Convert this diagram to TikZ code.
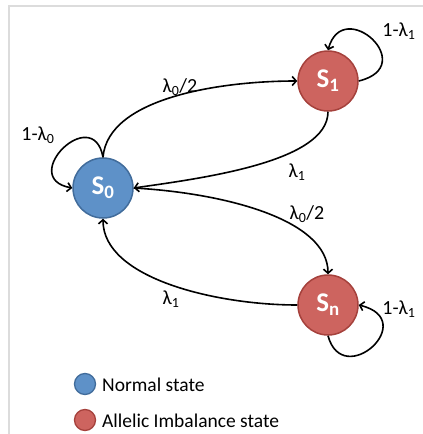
\documentclass[tikz,border=0pt]{standalone}
\usepackage{fontspec}
\setmainfont{Carlito}
\usetikzlibrary{arrows.meta}
\definecolor{nblue}{RGB}{94,145,200}
\definecolor{nblueb}{RGB}{65,108,155}
\definecolor{ared}{RGB}{205,100,95}
\definecolor{aredb}{RGB}{165,65,60}
\definecolor{framegray}{RGB}{220,220,220}
\begin{document}
\begin{tikzpicture}[x=1pt,y=-1pt,
  state/.style={circle,minimum size=60pt,inner sep=0pt,line width=1.5pt,text=white,font=\fontsize{27}{30}\selectfont\bfseries},
  normal/.style={state,fill=nblue,draw=nblueb},
  ai/.style={state,fill=ared,draw=aredb},
  lbl/.style={font=\fontsize{20}{23}\selectfont,inner sep=0pt},
  legtext/.style={font=\fontsize{19.5}{22}\selectfont,inner sep=0pt,anchor=base west},
  tr/.style={line width=1.6pt,-{Straight Barb[length=4pt,width=9pt]}},
  leg/.style={circle,minimum size=21pt,inner sep=0pt,line width=1.3pt}
]
\useasboundingbox (0,0) rectangle (423,434);
\draw[framegray,line width=2pt] (8.5,434) -- (8.5,5.5) -- (423,5.5);

\node[normal] (s0) at (103,188) {S\textsubscript{0}};
\node[ai] (s1) at (328,81) {S\textsubscript{1}};
\node[ai] (sn) at (328,305) {S\textsubscript{n}};

% transitions
\draw[tr] (s0.north) .. controls +(5,-60) and +(-75,0) .. (s1.west);
\draw[tr] (s1.south) .. controls +(0,50) and +(70,-10) .. (s0.east);
\draw[tr] (s0.east) .. controls +(90,5) and +(0,-55) .. (sn.north);
\draw[tr] (sn.west) .. controls +(-80,0) and +(0,60) .. (s0.south);

% self loops
\draw[tr] (s0.north) .. controls +(-10,-55) and +(-55,-10) .. (s0.west);
\draw[tr] (s1.east) .. controls +(62,-15) and +(15,-55) .. (s1.north);
\draw[tr] (sn.south) .. controls +(15,55) and +(62,15) .. (sn.east);

% labels
\node[lbl] (l1) at (180,87) {λ\textsubscript{0}/2};
\node[lbl] (l2) at (38,135) {1-λ\textsubscript{0}};
\node[lbl] (l3) at (399,31) {1-λ\textsubscript{1}};
\node[lbl] (l4) at (297,172) {λ\textsubscript{1}};
\node[lbl] (l5) at (307,214) {λ\textsubscript{0}/2};
\node[lbl] (l6) at (171,299) {λ\textsubscript{1}};
\node[lbl] (l7) at (399,309) {1-λ\textsubscript{1}};

% legend
\node[leg,fill=nblue,draw=nblueb] (lb) at (85,384) {};
\node[legtext] (lbt) at (102,391) {Normal state};
\node[leg,fill=ared,draw=aredb] (lr) at (85,420) {};
\node[legtext] (lrt) at (102,427) {Allelic Imbalance state};
\end{tikzpicture}
\end{document}
